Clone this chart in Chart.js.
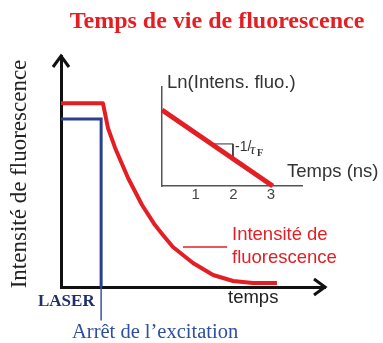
<!DOCTYPE html>
<html lang="fr">
<head>
<meta charset="utf-8">
<title>Temps de vie de fluorescence</title>
<script src="https://cdn.jsdelivr.net/npm/chart.js@4.4.1/dist/chart.umd.min.js"></script>
<style>
  html, body { margin: 0; padding: 0; background: #fff; }
  #wrap { position: relative; width: 383px; height: 343px; }
  #wrap canvas { position: absolute; }
  #mainChart { left: 0; top: 0; }
  #insetChart { left: 140px; top: 60px; }
</style>
</head>
<body>
<div id="wrap">
  <canvas id="mainChart" width="383" height="343"></canvas>
  <canvas id="insetChart" width="243" height="150"></canvas>
</div>
<script>
// déclin de fluorescence (unités arbitraires)
const declinTemps  = [0, 1.59, 1.78, 2.05, 2.54, 3.07, 3.56, 3.86, 4.24, 5.00, 5.76, 6.52, 7.27, 8.18];
const declinIntens = [7.95, 7.95, 6.88, 6.02, 4.72, 3.55, 2.68, 2.25, 1.73, 1.04, 0.52, 0.26, 0.17, 0.17];

// impulsion laser, coupée à l'arrêt de l'excitation
const laserTemps  = [0, 1.52, 1.52];
const laserIntens = [7.27, 7.27, 0];
const arretTemps  = [1.52, 1.52];
const arretIntens = [0, -1.45];

// trait de rappel vers la légende
const rappelTemps  = [4.62, 6.29];
const rappelIntens = [1.73, 1.73];

// encart : Ln(I) = f(t)
const lnTemps   = [0.1, 3.05];
const lnIntens  = [3.07, 0];
const lnTicks   = [1, 2, 3];
const penteTemps  = [1.43, 1.99, 1.99];
const penteIntens = [1.70, 1.70, 1.10];

const ROUGE = '#e31e24';
const BLEU = '#2b3f8f';
const SANS = '"Liberation Sans", Arial, sans-serif';
const SERIF = '"Liberation Serif", "Times New Roman", serif';

const pts = (xs, ys) => xs.map((x, i) => ({ x: x, y: ys[i] }));

const flechesAxes = {
  id: 'flechesAxes',
  afterDraw(chart) {
    const { ctx, chartArea: a } = chart;
    ctx.save();
    ctx.strokeStyle = '#111';
    ctx.lineWidth = 3;
    ctx.lineJoin = 'miter';
    ctx.beginPath();
    ctx.moveTo(a.left - 8, a.top + 11);
    ctx.lineTo(a.left, a.top);
    ctx.lineTo(a.left + 8, a.top + 11);
    ctx.moveTo(a.right - 11, a.bottom - 8);
    ctx.lineTo(a.right, a.bottom);
    ctx.lineTo(a.right - 11, a.bottom + 8);
    ctx.stroke();
    ctx.restore();
  }
};

const textesPrincipaux = {
  id: 'textesPrincipaux',
  afterDraw(chart) {
    const ctx = chart.ctx;
    ctx.save();
    ctx.textBaseline = 'middle';

    ctx.fillStyle = ROUGE;
    ctx.font = 'bold 24px ' + SERIF;
    ctx.textAlign = 'center';
    ctx.fillText('Temps de vie de fluorescence', 217, 22);

    ctx.save();
    ctx.translate(20, 174);
    ctx.rotate(-Math.PI / 2);
    ctx.fillStyle = '#222';
    ctx.font = '23px ' + SERIF;
    ctx.fillText('Intensité de fluorescence', 0, 0);
    ctx.restore();

    ctx.textAlign = 'left';
    ctx.fillStyle = ROUGE;
    ctx.font = '18.5px ' + SANS;
    ctx.fillText('Intensité de', 232, 235);
    ctx.fillText('fluorescence', 232, 258);

    ctx.fillStyle = '#222';
    ctx.fillText('temps', 228, 298);

    ctx.fillStyle = '#1f2f6b';
    ctx.font = 'bold 17px ' + SERIF;
    ctx.fillText('LASER', 38, 302);

    ctx.fillStyle = '#2d4f9e';
    ctx.font = '20.5px ' + SERIF;
    ctx.fillText('Arrêt de l\u2019excitation', 72, 333);
    ctx.restore();
  }
};

const textesEncart = {
  id: 'textesEncart',
  afterDraw(chart) {
    const { ctx, chartArea: a } = chart;
    ctx.save();
    ctx.textBaseline = 'middle';
    ctx.fillStyle = '#333';
    ctx.font = '18.5px ' + SANS;
    ctx.fillText('Ln(Intens. fluo.)', a.left + 5, a.top - 4);
    ctx.fillText('Temps (ns)', a.right - 15, a.bottom - 14);

    ctx.font = '14px ' + SANS;
    ctx.fillText('-1/', 95, 87);
    ctx.font = 'italic 15px ' + SERIF;
    ctx.fillText('\u03c4', 110, 90);
    ctx.font = 'bold 10px ' + SERIF;
    ctx.fillText('F', 117, 93);
    ctx.restore();
  }
};

const axeCache = (s) => { s.width = 0; s.height = 0; };

new Chart(document.getElementById('mainChart'), {
  type: 'scatter',
  data: {
    datasets: [
      { data: pts(declinTemps, declinIntens), showLine: true, borderColor: ROUGE, borderWidth: 4,
        tension: 0, borderJoinStyle: 'round', pointRadius: 0 },
      { data: pts(rappelTemps, rappelIntens), showLine: true, borderColor: ROUGE, borderWidth: 1.5, pointRadius: 0 },
      { data: pts(laserTemps, laserIntens), showLine: true, borderColor: BLEU, borderWidth: 3, pointRadius: 0 },
      { data: pts(arretTemps, arretIntens), showLine: true, borderColor: '#3b55a6', borderWidth: 1.5,
        pointRadius: 0, clip: false }
    ]
  },
  options: {
    responsive: false,
    animation: false,
    events: [],
    layout: { padding: { left: 61, right: 58, top: 56, bottom: 56 } },
    plugins: { legend: { display: false }, tooltip: { enabled: false } },
    scales: {
      x: { type: 'linear', min: 0, max: 10, ticks: { display: false }, grid: { display: false },
           border: { color: '#111', width: 3 }, afterFit: axeCache },
      y: { type: 'linear', min: 0, max: 10, ticks: { display: false }, grid: { display: false },
           border: { color: '#111', width: 3 }, afterFit: axeCache }
    }
  },
  plugins: [flechesAxes, textesPrincipaux]
});

new Chart(document.getElementById('insetChart'), {
  type: 'scatter',
  data: {
    datasets: [
      { data: pts(lnTemps, lnIntens), showLine: true, borderColor: ROUGE, borderWidth: 5, pointRadius: 0, clip: false },
      { data: pts(penteTemps, penteIntens), showLine: true, borderColor: '#333', borderWidth: 1, pointRadius: 0 }
    ]
  },
  options: {
    responsive: false,
    animation: false,
    events: [],
    layout: { padding: { left: 22, right: 81, top: 27, bottom: 0 } },
    plugins: { legend: { display: false }, tooltip: { enabled: false } },
    scales: {
      x: {
        type: 'linear', min: 0.1, max: 3.83,
        afterBuildTicks: (s) => { s.ticks = lnTicks.map(v => ({ value: v })); },
        afterFit: (s) => { s.height = 24; },
        grid: { display: false },
        border: { color: '#555', width: 1.5 },
        ticks: { color: '#444', padding: -7, autoSkip: false, maxRotation: 0,
                 font: { family: SANS, size: 15, lineHeight: 1 } }
      },
      y: { type: 'linear', min: 0, max: 4, ticks: { display: false }, grid: { display: false },
           border: { color: '#555', width: 1.5 }, afterFit: (s) => { s.width = 0; } }
    }
  },
  plugins: [textesEncart]
});
</script>
</body>
</html>
